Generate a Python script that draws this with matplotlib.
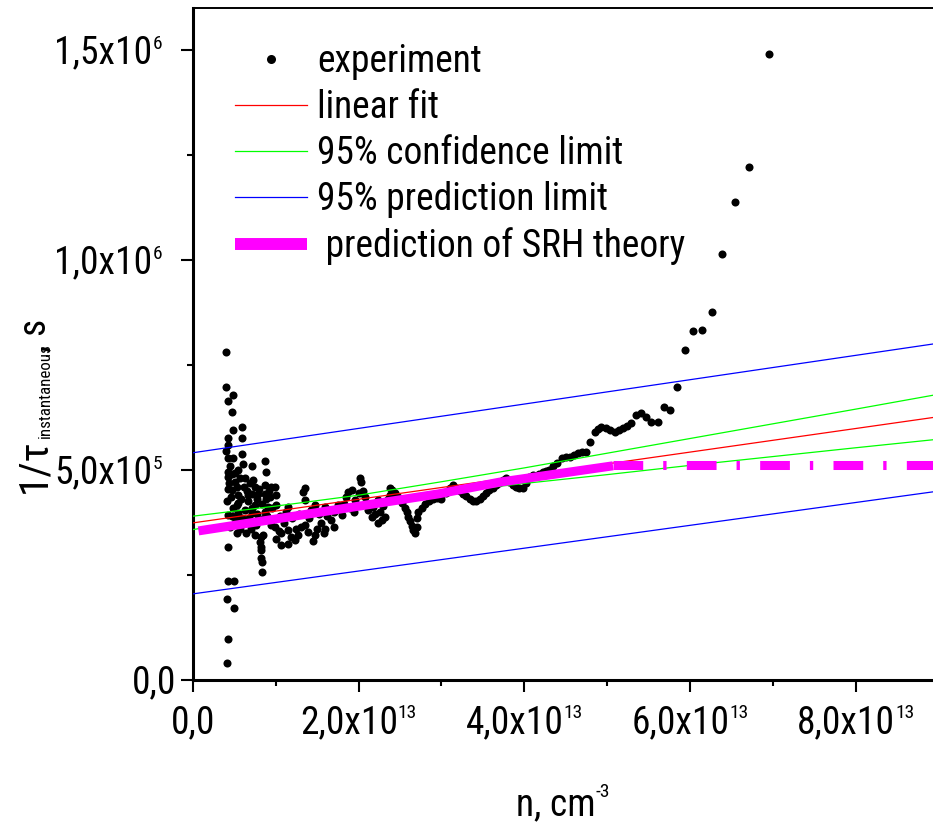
import matplotlib
matplotlib.use('Agg')
import matplotlib.pyplot as plt
from matplotlib.lines import Line2D
from matplotlib import font_manager


def pick_narrow():
    prefs = ['Liberation Sans Narrow', 'Arial Narrow', 'Roboto Condensed', 'Noto Sans Condensed',
             'DejaVu Sans Condensed', 'Open Sans Condensed']
    names = {f.name for f in font_manager.fontManager.ttflist}
    for p in prefs:
        if p in names:
            return p, 'normal'
    for f in font_manager.fontManager.ttflist:
        if (f.stretch in ('condensed', 'semi-condensed') and f.style == 'normal'
                and 'Mono' not in f.name and 'Serif' not in f.name):
            return f.name, f.stretch
    return None, None


narrow, stretch = pick_narrow()
if narrow:
    FONT, FS = narrow, 27
    plt.rcParams['font.stretch'] = stretch
else:
    FONT, FS = 'Liberation Sans', 23
FS_SUP = 14
plt.rcParams['font.family'] = [FONT, 'DejaVu Sans']
plt.rcParams['lines.scale_dashes'] = False

W, H, DPI = 933, 822, 100
EM = FS * DPI / 72  # font size in pixels

# experiment points, n in 1e13 cm^-3, rate in 1e5 s^-1
SPIKE = [(0.40, 7.82), (0.40, 6.98), (0.49, 6.78), (0.42, 6.65), (0.48, 6.39), (0.60, 6.02),
         (0.49, 5.96), (0.59, 5.75), (0.43, 5.75), (0.42, 5.60), (0.43, 5.28), (0.60, 5.38),
         (0.49, 5.29), (0.61, 5.14), (0.71, 5.10), (0.87, 5.22), (0.88, 4.96), (0.43, 4.96),
         (0.51, 4.92), (0.43, 4.84), (0.51, 4.72), (0.63, 4.80), (0.69, 4.68), (0.75, 4.60),
         (0.53, 4.60), (0.47, 4.52), (0.79, 4.44), (0.87, 4.64), (0.95, 4.60), (0.87, 4.44),
         (0.71, 4.44), (0.55, 4.40), (0.41, 4.25), (0.55, 4.21), (0.67, 4.25), (0.75, 4.17),
         (0.91, 4.13), (0.55, 3.97), (0.43, 3.93), (0.71, 3.97), (0.87, 4.01), (0.53, 4.17),
         (0.53, 3.49), (0.75, 3.45), (0.85, 3.45), (0.42, 3.17), (0.81, 3.29), (0.82, 3.10),
         (0.82, 2.90), (0.83, 2.82), (0.83, 2.58), (0.82, 3.41), (0.82, 3.17), (0.43, 2.36),
         (0.50, 2.36), (0.41, 1.92), (0.50, 1.72), (0.43, 0.98), (0.41, 0.40),
         (0.45, 5.10), (0.47, 4.90), (0.55, 5.00), (0.57, 4.80), (0.62, 4.60), (0.65, 4.50),
         (0.67, 4.40), (0.73, 4.75), (0.77, 4.30), (0.80, 4.55), (0.84, 4.20), (0.89, 4.30),
         (0.92, 4.50), (0.46, 4.35), (0.49, 4.10), (0.58, 4.30), (0.63, 4.05), (0.68, 3.85),
         (0.72, 4.10), (0.78, 3.95), (0.86, 3.85), (0.60, 3.85), (0.52, 3.80), (0.45, 3.65),
         (0.57, 3.60), (0.64, 3.50), (0.70, 3.60), (0.76, 3.70), (0.48, 3.90), (0.42, 4.55),
         (0.44, 4.70), (0.40, 5.45), (0.51, 3.73)]

BAND = [(1.01, 4.40), (1.01, 4.17), (0.99, 4.60), (0.93, 4.36), (1.15, 4.13), (1.33, 4.48),
        (1.35, 4.29), (1.47, 4.17), (1.59, 4.13), (1.75, 4.17), (1.87, 4.48), (1.92, 4.52),
        (2.03, 4.72), (1.96, 4.29), (2.08, 4.36), (2.24, 4.29), (0.83, 3.81), (0.99, 3.65),
        (1.07, 3.49), (1.07, 3.21), (1.15, 3.57), (1.23, 3.33), (1.31, 3.65), (1.39, 3.53),
        (1.47, 3.45), (1.55, 3.73), (1.71, 3.65), (1.67, 3.81), (1.80, 3.93), (2.16, 3.89),
        (2.24, 3.73), (2.32, 3.89), (1.15, 3.25), (2.28, 3.81), (1.05, 3.90), (1.10, 3.75),
        (1.12, 4.00), (1.20, 3.85), (1.25, 3.60), (1.28, 3.95), (1.35, 3.70), (1.40, 3.85),
        (1.43, 4.05), (1.50, 3.60), (1.52, 3.95), (1.58, 3.50), (1.62, 3.90), (1.64, 4.05),
        (1.70, 4.00), (1.78, 4.10), (1.82, 4.20), (1.85, 4.35), (1.90, 4.10), (1.95, 4.00),
        (2.00, 4.45), (2.05, 4.50), (2.10, 4.20), (2.12, 4.05), (2.18, 4.12), (2.20, 3.95),
        (2.26, 4.00), (2.30, 4.15), (2.35, 4.30), (2.38, 4.40), (1.18, 3.40), (1.27, 3.45),
        (1.45, 3.30), (1.60, 3.60), (1.00, 3.35), (1.04, 3.55), (0.95, 3.70), (0.90, 3.90),
        (0.96, 4.10), (1.36, 4.58), (2.02, 4.80), (2.38, 4.57)]

CHAIN = [(2.40, 4.52), (2.44, 4.45), (2.48, 4.35), (2.52, 4.22), (2.56, 4.10), (2.58, 4.00),
         (2.60, 3.88), (2.62, 3.78), (2.64, 3.66), (2.66, 3.57), (2.68, 3.49), (2.70, 3.65),
         (2.71, 3.85), (2.72, 4.00), (2.76, 4.10), (2.80, 4.20), (2.85, 4.27), (2.90, 4.30),
         (2.95, 4.33), (3.00, 4.32), (3.05, 4.45), (3.10, 4.58), (3.14, 4.64), (3.18, 4.58),
         (3.22, 4.50), (3.26, 4.44), (3.30, 4.38), (3.34, 4.30), (3.38, 4.25), (3.42, 4.27),
         (3.46, 4.30), (3.50, 4.38), (3.54, 4.45), (3.58, 4.52), (3.62, 4.58), (3.66, 4.64),
         (3.70, 4.70), (3.74, 4.76), (3.78, 4.80), (3.82, 4.72), (3.86, 4.65), (3.90, 4.60),
         (3.94, 4.57), (3.98, 4.56), (4.02, 4.70), (4.06, 4.84), (4.10, 4.88), (4.14, 4.85),
         (4.18, 4.90), (4.22, 4.95), (4.26, 4.98), (4.30, 5.00), (4.35, 5.10), (4.39, 5.16),
         (4.45, 5.28), (4.50, 5.30), (4.55, 5.32), (4.60, 5.36), (4.65, 5.40), (4.70, 5.42),
         (4.75, 5.44), (4.79, 5.67), (4.85, 5.91), (4.89, 5.98), (4.93, 6.03), (4.98, 6.00),
         (5.03, 5.95), (5.09, 5.91), (5.14, 5.95), (5.19, 5.99), (5.24, 6.04), (5.29, 6.11),
         (5.35, 6.31), (5.41, 6.35), (5.47, 6.27), (5.53, 6.15), (5.61, 6.15), (5.68, 6.51),
         (5.76, 6.44), (5.84, 6.97), (5.94, 7.86), (6.04, 8.31), (6.14, 8.33), (6.26, 8.75),
         (6.39, 10.14), (6.54, 11.39), (6.71, 12.21), (6.95, 14.90)]

# linear fit and limits
FIT_N = [0, 8.93]
FIT_R = [3.74, 6.25]
CONF_N = [0, 1, 2, 3, 4, 5, 6, 7, 8, 8.93]
CONF_UP = [3.90, 4.14, 4.40, 4.72, 5.05, 5.40, 5.75, 6.10, 6.45, 6.78]
CONF_LO = [3.58, 3.91, 4.20, 4.45, 4.68, 4.89, 5.11, 5.32, 5.53, 5.72]
PRED_N = [0, 8.93]
PRED_UP = [5.41, 8.00]
PRED_LO = [2.05, 4.48]

# SRH prediction
SRH_N = [0.07, 2.96, 3.70, 5.07]
SRH_R = [3.55, 4.43, 4.71, 5.10]
SRH_TAIL_N = [5.07, 8.93]
SRH_TAIL_R = [5.13, 5.13]

X_TICKS = [0, 2, 4, 6, 8]
X_LABELS = [('0,0', ''), ('2,0x10', '13'), ('4,0x10', '13'), ('6,0x10', '13'), ('8,0x10', '13')]
Y_TICKS = [0, 5, 10, 15]
Y_LABELS = [('0,0', ''), ('5,0x10', '5'), ('1,0x10', '6'), ('1,5x10', '6')]

N_SCALE = 1e13
R_SCALE = 1e5


def scaled(vals, k):
    return [v * k for v in vals]


fig = plt.figure(figsize=(W / DPI, H / DPI), dpi=DPI)
ax = fig.add_axes([192.7 / W, 142 / H, (W - 192.7) / W, 672 / H])

pts = SPIKE + BAND + CHAIN
ax.plot([p[0] * N_SCALE for p in pts], [p[1] * R_SCALE for p in pts], 'o',
        color='black', ms=5.8, mec='none', zorder=2)

ax.plot(scaled(PRED_N, N_SCALE), scaled(PRED_UP, R_SCALE), color='#0000ff', lw=0.9, zorder=3)
ax.plot(scaled(PRED_N, N_SCALE), scaled(PRED_LO, R_SCALE), color='#0000ff', lw=0.9, zorder=3)
ax.plot(scaled(CONF_N, N_SCALE), scaled(CONF_UP, R_SCALE), color='#00ff00', lw=0.9, zorder=3)
ax.plot(scaled(CONF_N, N_SCALE), scaled(CONF_LO, R_SCALE), color='#00ff00', lw=0.9, zorder=3)
ax.plot(scaled(FIT_N, N_SCALE), scaled(FIT_R, R_SCALE), color='#ff0000', lw=0.9, zorder=3)

ax.plot(scaled(SRH_N, N_SCALE), scaled(SRH_R, R_SCALE), color='#ff00ff', lw=6.5,
        solid_capstyle='butt', zorder=4)
ax.plot(scaled(SRH_TAIL_N, N_SCALE), scaled(SRH_TAIL_R, R_SCALE), color='#ff00ff', lw=6.5,
        ls=(0, (21.4, 14.4, 2.4, 14.6)), dash_capstyle='butt', zorder=4)

ax.set_xlim(0, 8.93e13)
ax.set_ylim(0, 1.6e6)
ax.set_xticks(scaled(X_TICKS, N_SCALE))
ax.set_xticks([v * N_SCALE for v in (1, 3, 5, 7)], minor=True)
ax.set_yticks(scaled(Y_TICKS, R_SCALE))
ax.set_yticks([v * R_SCALE for v in (2.5, 7.5, 12.5)], minor=True)
ax.tick_params(which='both', direction='out', width=1.5, labelbottom=False, labelleft=False,
               top=False, right=False)
ax.tick_params(which='major', length=8.6)
ax.tick_params(which='minor', length=4.3)
ax.spines['right'].set_visible(False)
ax.spines['left'].set_linewidth(2.2)
ax.spines['bottom'].set_linewidth(2.2)
ax.spines['top'].set_linewidth(1.4)

renderer = fig.canvas.get_renderer()
DIG = 0.7  # digit height in em


def width_pt(t):
    return t.get_window_extent(renderer).width * 72 / DPI


# x tick labels
XPAD = 19.4
for v, (base, sup) in zip(X_TICKS, X_LABELS):
    tb = ax.annotate(base, xy=(v * N_SCALE, 0), xycoords=ax.get_xaxis_transform(),
                     xytext=(0, 0), textcoords='offset points', ha='left', va='baseline',
                     fontsize=FS, annotation_clip=False)
    wb = width_pt(tb)
    ws = 0
    if sup:
        ts = ax.annotate(sup, xy=(v * N_SCALE, 0), xycoords=ax.get_xaxis_transform(),
                         xytext=(0, 0), textcoords='offset points', ha='left', va='baseline',
                         fontsize=FS_SUP, annotation_clip=False)
        ws = width_pt(ts)
        ts.xyann = (-(wb + ws) / 2 + wb, -XPAD + 1.5 - DIG * FS_SUP)
    tb.xyann = (-(wb + ws) / 2, -XPAD - DIG * FS)

# y tick labels
for v, (base, sup) in zip(Y_TICKS, Y_LABELS):
    tb = ax.annotate(base, xy=(0, v * R_SCALE), xycoords=ax.get_yaxis_transform(),
                     xytext=(0, 0), textcoords='offset points', ha='right', va='baseline',
                     fontsize=FS, annotation_clip=False)
    if sup:
        ts = ax.annotate(sup, xy=(0, v * R_SCALE), xycoords=ax.get_yaxis_transform(),
                         xytext=(-22, DIG * FS / 2 + 1 - DIG * FS_SUP), textcoords='offset points',
                         ha='right', va='baseline', fontsize=FS_SUP, annotation_clip=False)
        ws = width_pt(ts)
        tb.xyann = (-22 - ws, -DIG * FS / 2)
    else:
        tb.xyann = (-12, -DIG * FS / 2)


def fx(x):
    return x / W


def fy(y):
    return 1 - y / H


# x axis title
tb = fig.text(0, 0, 'n, cm', fontsize=FS, ha='left', va='baseline')
ts = fig.text(0, 0, '-3', fontsize=FS_SUP, ha='left', va='baseline')
wb = tb.get_window_extent(renderer).width
ws = ts.get_window_extent(renderer).width
left = 563 - (wb + ws) / 2
tb.set_position((fx(left), fy(815)))
ts.set_position((fx(left + wb), fy(783 + DIG * FS_SUP * DPI / 72)))

# y axis title, rotated pieces
y0 = 493
t1 = fig.text(fx(45), fy(y0), '1/τ', fontsize=FS * 1.1, rotation=90, rotation_mode='anchor',
              ha='left', va='baseline')
l1 = t1.get_window_extent(renderer).height
t2 = fig.text(fx(50), fy(y0 - l1), 'instantaneous', fontsize=FS * 0.45, rotation=90,
              rotation_mode='anchor', ha='left', va='baseline')
l2 = t2.get_window_extent(renderer).height
fig.text(fx(45), fy(y0 - l1 - l2 + 8), ', s', fontsize=FS, rotation=90, rotation_mode='anchor',
         ha='left', va='baseline')

handles = [Line2D([], [], ls='none', marker='o', ms=6.5, color='black', mec='none'),
           Line2D([], [], color='#ff0000', lw=0.9),
           Line2D([], [], color='#00ff00', lw=0.9),
           Line2D([], [], color='#0000ff', lw=0.9),
           Line2D([], [], color='#ff00ff', lw=8.6, solid_capstyle='butt')]
labels = ['experiment', 'linear fit', '95% confidence limit', '95% prediction limit',
          ' prediction of SRH theory']
ax.legend(handles, labels, loc='upper left', bbox_to_anchor=(fx(235), fy(66 - 0.6 * EM)),
          bbox_transform=fig.transFigure, frameon=False, fontsize=FS,
          handlelength=72 / EM, handletextpad=10 / EM,
          labelspacing=max(0.0, (45 - 0.96 * EM) / EM), borderpad=0, borderaxespad=0,
          numpoints=1)

fig.savefig('out.png', dpi=DPI)
